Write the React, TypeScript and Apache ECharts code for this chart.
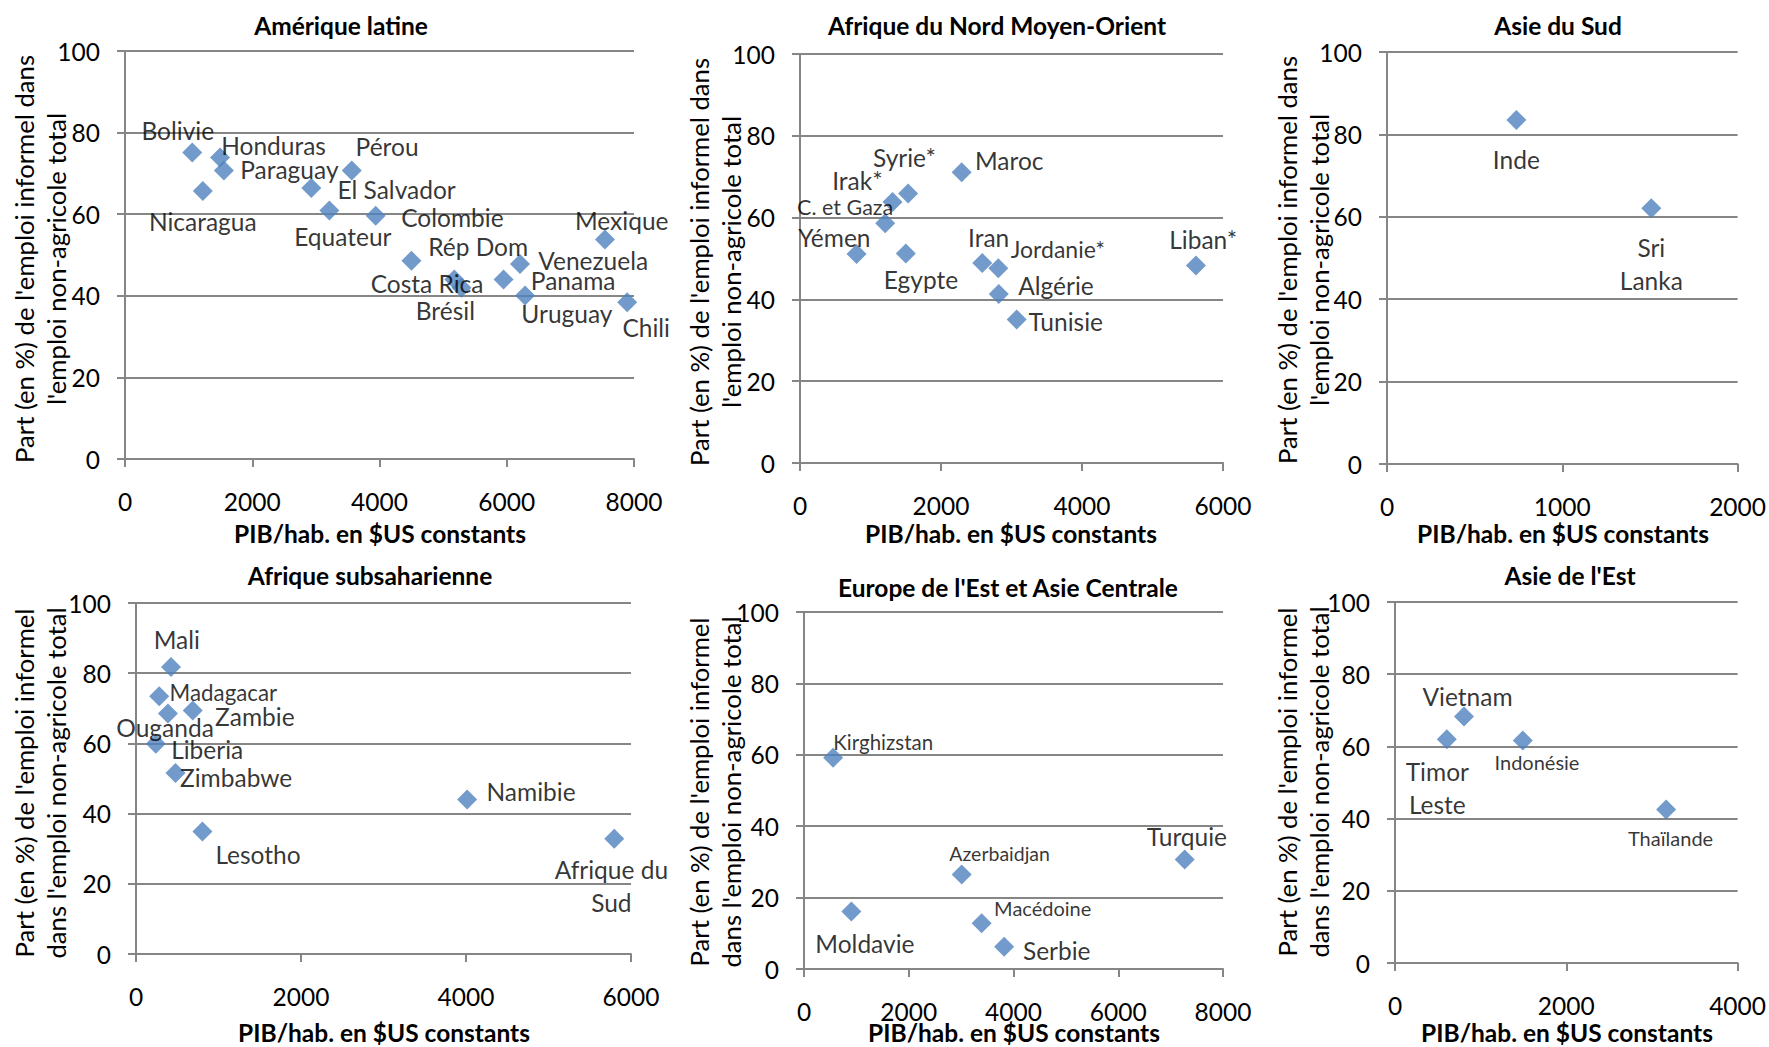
import React, { useEffect, useRef } from "react";
import * as echarts from "echarts";

// ---------- DATA ----------
const latamNames = ["Bolivie", "Honduras", "Paraguay", "Nicaragua", "El Salvador", "Equateur", "Pérou", "Colombie", "Rép Dom", "Costa Rica", "Brésil", "Panama", "Venezuela", "Uruguay", "Mexique", "Chili"];
const latamGdp = [1057, 1494, 1554, 1223, 2928, 3212, 3564, 3940, 4502, 5176, 5289, 5950, 6208, 6288, 7543, 7893];
const latamInformal = [75.1, 73.9, 70.7, 65.7, 66.4, 60.9, 70.7, 59.6, 48.6, 44.0, 42.0, 44.0, 47.8, 40.1, 53.8, 38.4];

const menaNames = ["Yémen", "Egypte", "C. et Gaza", "Irak*", "Syrie*", "Maroc", "Iran", "Jordanie*", "Algérie", "Tunisie", "Liban*"];
const menaGdp = [802, 1501, 1208, 1312, 1534, 2293, 2585, 2813, 2819, 3074, 5616];
const menaInformal = [51.1, 51.2, 58.6, 63.8, 65.9, 71.1, 48.9, 47.6, 41.3, 35.1, 48.3];

const southAsiaNames = ["Inde", "Sri\nLanka"];
const southAsiaGdp = [738, 1508];
const southAsiaInformal = [83.5, 62.1];

const ssaNames = ["Mali", "Madagacar", "Ouganda", "Zambie", "Liberia", "Zimbabwe", "Lesotho", "Namibie", "Afrique du\nSud"];
const ssaGdp = [424, 281, 387, 688, 240, 479, 805, 4014, 5797];
const ssaInformal = [81.8, 73.4, 68.5, 69.4, 59.9, 51.6, 34.9, 44.0, 32.8];

const ecaNames = ["Kirghizstan", "Moldavie", "Azerbaidjan", "Macédoine", "Serbie", "Turquie"];
const ecaGdp = [556, 905, 3011, 3391, 3821, 7269];
const ecaInformal = [59.2, 16.1, 26.5, 12.8, 6.2, 30.7];

const eastAsiaNames = ["Timor\nLeste", "Vietnam", "Indonésie", "Thaïlande"];
const eastAsiaGdp = [605, 806, 1492, 3166];
const eastAsiaInformal = [62.0, 68.3, 61.6, 42.5];

const panelTitles = ["Amérique latine", "Afrique du Nord Moyen-Orient", "Asie du Sud", "Afrique subsaharienne", "Europe de l'Est et Asie Centrale", "Asie de l'Est"];
const xAxisTitle = "PIB/hab. en $US constants";
const yAxisTitleTop = "Part (en %) de l'emploi informel dans\nl'emploi non-agricole total";
const yAxisTitleBottom = "Part (en %) de l'emploi informel\ndans l'emploi non-agricole total";
const xMaxes = [8000, 6000, 2000, 6000, 8000, 4000];
const xIntervals = [2000, 2000, 1000, 2000, 2000, 2000];
const yTicks = [0, 20, 40, 60, 80, 100];

// ---------- LAYOUT / STYLE ----------
const latamOffsets = [[-14.5, -22.3], [53.5, -11.7], [65.5, -1], [0, 31], [85.3, 1.7], [13.5, 25.9], [35.3, -24.4], [76.7, 2], [66.7, -14.5], [-27.3, 4.5], [-16.2, 22.4], [69.6, 1], [73.2, -3.1], [41.8, 18.5], [16.8, -19], [19, 25]];
const menaOffsets = [[-22.2, -16.5], [15.1, 25.8], [-40, -16.5], [-35.1, -21.7], [-3.7, -35.5], [47.6, -11.3], [6.4, -25.8], [59.6, -19.3], [57.2, -8.6], [49, 2.4], [7.3, -25.8]];
const southAsiaOffsets = [[0, 39.3], [0, 55.6]];
const ssaOffsets = [[5.8, -27.3], [64.2, -3.4], [-2.9, 13.7], [62.1, 6], [51.4, 6], [60.6, 5], [55.6, 23.3], [63.9, -8.3], [-2.9, 47.2]];
const ecaOffsets = [[50.1, -16], [13.5, 31.6], [37.9, -21], [61.1, -15.6], [52.6, 4], [2.2, -22.6]];
const eastAsiaOffsets = [[-9.5, 48.5], [3.5, -20], [14.2, 21.7], [4.4, 28.3]];

// label font sizes that differ from the default (index -> px)
const latamSizes: Record<number, number> = {};
const menaSizes: Record<number, number> = { 2: 21.5, 7: 23 };
const southAsiaSizes: Record<number, number> = {};
const ssaSizes: Record<number, number> = { 1: 22.3 };
const ecaSizes: Record<number, number> = { 0: 20.5, 2: 19.5, 3: 20 };
const eastAsiaSizes: Record<number, number> = { 2: 20, 3: 20 };

const BLUE = "#4F81BD";
const GRAY = "#868686";
const FONT = "Lato, 'Open Sans', sans-serif";
const FS = 24.5;
const FS_YTITLE = 25.7;

const panels = [
  { names: latamNames, xs: latamGdp, ys: latamInformal, offsets: latamOffsets, sizes: latamSizes,
    grid: { left: 125, top: 51, width: 509, height: 408 }, titlePos: [341, 25], xTitlePos: [380, 533], yTitlePos: [40, 259], yTitle: yAxisTitleTop },
  { names: menaNames, xs: menaGdp, ys: menaInformal, offsets: menaOffsets, sizes: menaSizes,
    grid: { left: 800, top: 54, width: 423, height: 409 }, titlePos: [997, 25], xTitlePos: [1011, 533], yTitlePos: [715, 262], yTitle: yAxisTitleTop },
  { names: southAsiaNames, xs: southAsiaGdp, ys: southAsiaInformal, offsets: southAsiaOffsets, sizes: southAsiaSizes,
    grid: { left: 1387, top: 52, width: 352, height: 412 }, titlePos: [1558, 25], xTitlePos: [1563, 533], yTitlePos: [1303, 260], yTitle: yAxisTitleTop },
  { names: ssaNames, xs: ssaGdp, ys: ssaInformal, offsets: ssaOffsets, sizes: ssaSizes,
    grid: { left: 136, top: 603, width: 495, height: 351 }, titlePos: [370, 575], xTitlePos: [384, 1032], yTitlePos: [40, 783], yTitle: yAxisTitleBottom },
  { names: ecaNames, xs: ecaGdp, ys: ecaInformal, offsets: ecaOffsets, sizes: ecaSizes,
    grid: { left: 804, top: 612, width: 419, height: 357 }, titlePos: [1008, 587], xTitlePos: [1014, 1032], yTitlePos: [715, 792], yTitle: yAxisTitleBottom },
  { names: eastAsiaNames, xs: eastAsiaGdp, ys: eastAsiaInformal, offsets: eastAsiaOffsets, sizes: eastAsiaSizes,
    grid: { left: 1395, top: 602, width: 344, height: 361 }, titlePos: [1570, 575], xTitlePos: [1567, 1032], yTitlePos: [1303, 782], yTitle: yAxisTitleBottom },
];

function textEl(text: string, x: number, y: number, bold: boolean, size: number, rotate = false) {
  return {
    type: "text",
    x,
    y,
    rotation: rotate ? Math.PI / 2 : 0,
    silent: true,
    style: {
      text,
      fill: "#000",
      font: `${bold ? "bold " : ""}${size}px ${FONT}`,
      align: "center",
      verticalAlign: "middle",
      textAlign: "center",
      textVerticalAlign: "middle",
      lineHeight: rotate ? 32 : 24,
    },
  };
}

function buildOption() {
  const axisLine = { show: true, lineStyle: { color: GRAY, width: 2 } };
  const axisTick = { show: true, inside: false, length: 8, lineStyle: { color: GRAY, width: 2 } };
  const labelStyle = { color: "#000", fontFamily: FONT, fontSize: FS };

  const grid = panels.map((p) => ({ ...p.grid, containLabel: false }));
  const xAxis = panels.map((p, i) => ({
    type: "value",
    gridIndex: i,
    min: 0,
    max: xMaxes[i],
    interval: xIntervals[i],
    axisLine,
    axisTick,
    splitLine: { show: false },
    axisLabel: { ...labelStyle, margin: 30, formatter: (v: number) => String(v) },
  }));
  const yAxis = panels.map((p, i) => ({
    type: "value",
    gridIndex: i,
    min: yTicks[0],
    max: yTicks[yTicks.length - 1],
    interval: yTicks[1] - yTicks[0],
    axisLine,
    axisTick,
    splitLine: { show: true, lineStyle: { color: GRAY, width: 2 } },
    axisLabel: { ...labelStyle, margin: 25, formatter: (v: number) => String(v) },
  }));
  const series = panels.map((p, i) => ({
    type: "scatter",
    xAxisIndex: i,
    yAxisIndex: i,
    symbol: "diamond",
    symbolSize: 20,
    itemStyle: { color: BLUE },
    emphasis: { disabled: true },
    label: {
      show: true,
      position: "inside",
      formatter: "{b}",
      color: "#000",
      textBorderWidth: 0,
      fontFamily: FONT,
      fontSize: FS,
      lineHeight: 33,
      align: "center",
      verticalAlign: "middle",
    },
    data: p.names.map((n, j) => ({
      name: n,
      value: [p.xs[j], p.ys[j]],
      label: { offset: p.offsets[j], fontSize: p.sizes[j] ?? FS },
    })),
  }));
  const graphic: any[] = [];
  panels.forEach((p, i) => {
    graphic.push(textEl(panelTitles[i], p.titlePos[0], p.titlePos[1], true, FS));
    graphic.push(textEl(xAxisTitle, p.xTitlePos[0], p.xTitlePos[1], true, FS));
    graphic.push(textEl(p.yTitle, p.yTitlePos[0], p.yTitlePos[1], false, FS_YTITLE, true));
  });
  return {
    animation: false,
    backgroundColor: "#fff",
    grid,
    xAxis,
    yAxis,
    series,
    graphic,
  };
}

export default function App() {
  const ref = useRef<HTMLDivElement>(null);
  useEffect(() => {
    document.body.style.margin = "0";
    if (!ref.current) return;
    const chart = echarts.init(ref.current, undefined, { renderer: "svg" });
    chart.setOption(buildOption() as any);
    return () => chart.dispose();
  }, []);
  return <div ref={ref} style={{ width: 1769, height: 1047 }} />;
}
